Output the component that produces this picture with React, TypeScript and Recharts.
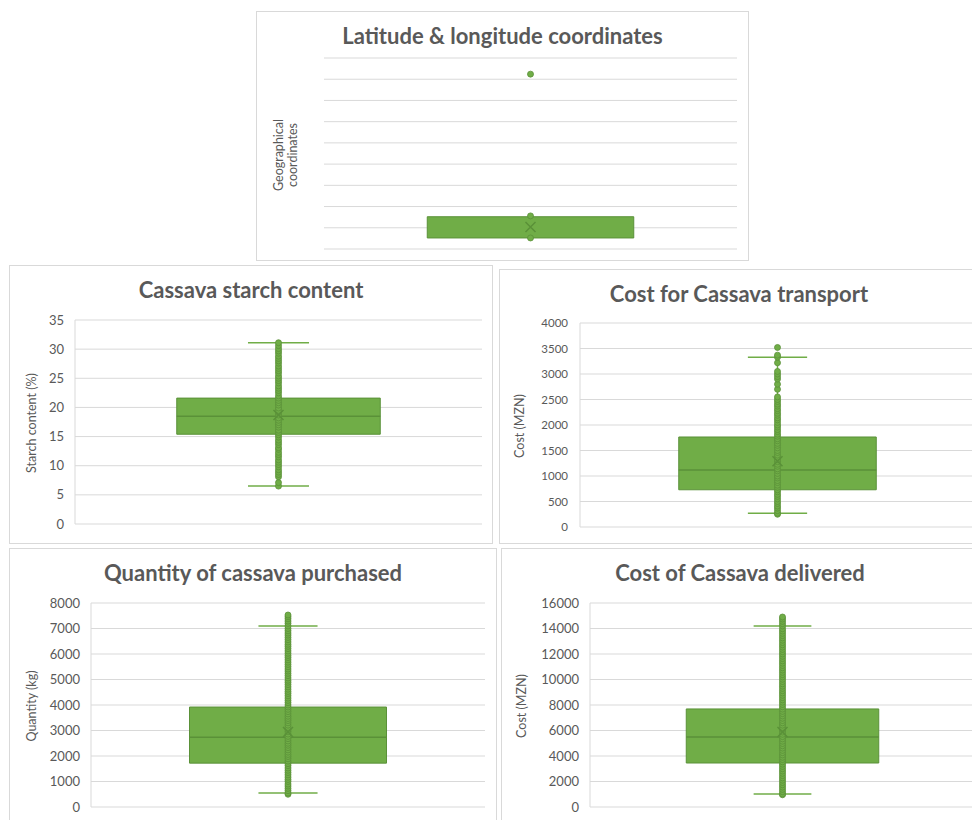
import React from "react";
import {
  ComposedChart,
  XAxis,
  YAxis,
  CartesianGrid,
  Scatter,
  ReferenceArea,
  ReferenceLine,
} from "recharts";

// ---- values ----
const geoTicks = [0, 5, 10, 15, 20, 25, 30, 35, 40, 45];
const geoStats = { q1: 2.6, median: 5.2, q3: 7.6, mean: 5.2, low: 2.6, high: 7.6 };
const geoPoints = [2.6, 7.8, 41.2];

const starchTicks = [0, 5, 10, 15, 20, 25, 30, 35];
const starchStats = { q1: 15.4, median: 18.5, q3: 21.6, mean: 18.7, low: 6.5, high: 31.1 };
const starchPoints = [
  6.5, 7.1, 8.1, 8.5, 8.9, 9.3, 9.8, 10.2, 10.6, 11.0, 11.5, 11.9, 12.3, 12.8, 13.1,
  13.6, 14.0, 14.4, 14.9, 15.3, 15.7, 16.1, 16.6, 17.0, 17.4, 17.8, 18.2, 18.7, 19.1,
  19.5, 19.9, 20.4, 20.8, 21.2, 21.6, 22.0, 22.5, 22.9, 23.3, 23.7, 24.2, 24.6, 25.0,
  25.4, 25.9, 26.3, 26.7, 27.1, 27.6, 28.0, 28.4, 28.8, 29.3, 29.7, 30.1, 30.6, 31.1,
];

const transportTicks = [0, 500, 1000, 1500, 2000, 2500, 3000, 3500, 4000];
const transportStats = { q1: 730, median: 1120, q3: 1765, mean: 1290, low: 270, high: 3330 };
const transportPoints = [
  250, 270, 320, 370, 410, 460, 500, 550, 600, 640, 690, 730, 780, 820, 870, 910, 960,
  1000, 1050, 1100, 1140, 1190, 1230, 1280, 1320, 1370, 1410, 1460, 1500, 1550, 1600,
  1640, 1690, 1730, 1780, 1820, 1870, 1910, 1960, 2000, 2050, 2100, 2140, 2190, 2230,
  2280, 2320, 2370, 2410, 2460, 2500, 2550, 2700, 2800, 2900, 2950, 3000, 3050, 3220,
  3330, 3370, 3520,
];

const quantityTicks = [0, 1000, 2000, 3000, 4000, 5000, 6000, 7000, 8000];
const quantityStats = { q1: 1720, median: 2740, q3: 3920, mean: 2940, low: 550, high: 7100 };
const quantityPoints = [
  500, 550, 640, 730, 820, 900, 1000, 1080, 1170, 1260, 1350, 1440, 1530, 1620, 1700,
  1800, 1890, 1980, 2060, 2150, 2240, 2330, 2420, 2500, 2590, 2680, 2770, 2860, 2950,
  3030, 3120, 3210, 3300, 3390, 3470, 3560, 3650, 3740, 3830, 3920, 4000, 4090, 4180,
  4270, 4360, 4450, 4530, 4620, 4710, 4800, 4890, 4970, 5060, 5150, 5240, 5330, 5410,
  5500, 5590, 5680, 5770, 5860, 5940, 6030, 6120, 6210, 6300, 6380, 6470, 6560, 6650,
  6740, 6820, 6910, 7000, 7100, 7200, 7290, 7380, 7460, 7530,
];

const deliveredTicks = [0, 2000, 4000, 6000, 8000, 10000, 12000, 14000, 16000];
const deliveredStats = { q1: 3450, median: 5490, q3: 7690, mean: 5880, low: 1020, high: 14200 };
const deliveredPoints = [
  960, 1020, 1200, 1380, 1560, 1740, 1920, 2100, 2280, 2460, 2640, 2820, 3000, 3180,
  3360, 3540, 3720, 3900, 4080, 4260, 4440, 4620, 4800, 4980, 5160, 5340, 5520, 5700,
  5880, 6060, 6240, 6420, 6600, 6780, 6960, 7140, 7320, 7500, 7680, 7860, 8040, 8220,
  8400, 8580, 8760, 8940, 9120, 9300, 9480, 9660, 9840, 10020, 10200, 10380, 10560,
  10740, 10920, 11100, 11280, 11460, 11640, 11820, 12000, 12180, 12360, 12540, 12720,
  12900, 13080, 13260, 13440, 13620, 13800, 13980, 14200, 14380, 14560, 14740, 14900,
];

// ---- styles ----
const GREEN = "#70AD47";
const GREEN_DARK = "#5A9138";
const TEXT = "#595959";
const GRID = "#D9D9D9";
const FONT = "Lato, 'Open Sans', sans-serif";

const BOX_HALF = 0.25;
const CAP_HALF = 0.075;

type Stats = { q1: number; median: number; q3: number; mean: number; low: number; high: number };

interface PanelProps {
  title: string;
  axisLabel: string[];
  frame: { left: number; top: number; width: number; height: number };
  plot: { left: number; top: number; right: number; bottom: number };
  titleY: number;
  labelX: number;
  ticks: number[];
  stats: Stats;
  points: number[];
  showTicks?: boolean;
  tickSize?: number;
  tickGap?: number;
  whiskers?: boolean;
  axisLine?: boolean;
}

const Dot = (props: any) => (
  <circle cx={props.cx} cy={props.cy} r={3} fill={GREEN} stroke={GREEN_DARK} strokeWidth={0.8} />
);

const MeanMark = (props: any) => {
  const { cx, cy } = props;
  const s = 5;
  return (
    <path
      d={`M${cx - s},${cy - s}L${cx + s},${cy + s}M${cx - s},${cy + s}L${cx + s},${cy - s}`}
      stroke={GREEN_DARK}
      strokeWidth={1.5}
      fill="none"
    />
  );
};

function BoxPanel(p: PanelProps) {
  const { frame, plot } = p;
  const axisW = p.showTicks === false ? 0 : plot.left - frame.left - 4;
  const margin = {
    top: plot.top - frame.top,
    bottom: frame.top + frame.height - plot.bottom,
    left: plot.left - frame.left - axisW,
    right: frame.left + frame.width - plot.right,
  };
  const s = p.stats;
  const pts = p.points.map((v) => ({ x: 0.5, y: v }));
  const meanPt = [{ x: 0.5, y: s.mean }];
  const top = p.ticks[p.ticks.length - 1];

  return (
    <div
      style={{
        position: "absolute",
        left: frame.left,
        top: frame.top,
        width: frame.width,
        height: frame.height,
        border: `1px solid ${GRID}`,
        boxSizing: "border-box",
        background: "#fff",
        fontFamily: FONT,
      }}
    >
      <div
        style={{
          position: "absolute",
          left: 0,
          width: "100%",
          top: p.titleY - frame.top - 14,
          textAlign: "center",
          fontSize: 22,
          fontWeight: 700,
          color: TEXT,
          lineHeight: "28px",
          whiteSpace: "nowrap",
        }}
      >
        {p.title}
      </div>
      <div
        style={{
          position: "absolute",
          left: p.labelX - frame.left,
          top: (plot.top + plot.bottom) / 2 - frame.top,
          transform: "translate(-50%, -50%) rotate(-90deg)",
          fontSize: 12.5,
          color: TEXT,
          textAlign: "center",
          lineHeight: "14px",
          whiteSpace: "nowrap",
        }}
      >
        {p.axisLabel.map((l) => (
          <div key={l}>{l}</div>
        ))}
      </div>
      <div style={{ position: "absolute", left: -1, top: -1 }}>
        <ComposedChart width={frame.width} height={frame.height} margin={margin}>
          <CartesianGrid vertical={false} stroke={GRID} />
          <XAxis type="number" dataKey="x" domain={[0, 1]} hide />
          <YAxis
            type="number"
            dataKey="y"
            domain={[0, top]}
            ticks={p.ticks}
            interval={0}
            width={axisW}
            hide={p.showTicks === false}
            tick={{ fill: TEXT, fontSize: p.tickSize ?? 13, fontFamily: FONT }}
            tickLine={false}
            tickSize={0}
            tickMargin={p.tickGap ?? 11}
            axisLine={p.axisLine === false ? false : { stroke: GRID }}
          />
          <ReferenceArea
            x1={0.5 - BOX_HALF}
            x2={0.5 + BOX_HALF}
            y1={s.q1}
            y2={s.q3}
            fill={GREEN}
            fillOpacity={1}
            stroke={GREEN_DARK}
            strokeWidth={1}
          />
          {p.whiskers !== false && (
            <>
              <ReferenceLine segment={[{ x: 0.5, y: s.q3 }, { x: 0.5, y: s.high }]} stroke={GREEN} strokeWidth={1.5} />
              <ReferenceLine segment={[{ x: 0.5, y: s.q1 }, { x: 0.5, y: s.low }]} stroke={GREEN} strokeWidth={1.5} />
              <ReferenceLine
                segment={[{ x: 0.5 - CAP_HALF, y: s.high }, { x: 0.5 + CAP_HALF, y: s.high }]}
                stroke={GREEN}
                strokeWidth={1.5}
              />
              <ReferenceLine
                segment={[{ x: 0.5 - CAP_HALF, y: s.low }, { x: 0.5 + CAP_HALF, y: s.low }]}
                stroke={GREEN}
                strokeWidth={1.5}
              />
              <ReferenceLine
                segment={[{ x: 0.5 - BOX_HALF, y: s.median }, { x: 0.5 + BOX_HALF, y: s.median }]}
                stroke={GREEN_DARK}
                strokeWidth={1.5}
              />
            </>
          )}
          <Scatter data={pts} shape={Dot} isAnimationActive={false} />
          <Scatter data={meanPt} shape={MeanMark} isAnimationActive={false} />
        </ComposedChart>
      </div>
    </div>
  );
}

export default function App() {
  return (
    <div
      style={{
        position: "absolute",
        left: 0,
        top: 0,
        width: 972,
        height: 820,
        overflow: "hidden",
        background: "#fff",
      }}
    >
      <BoxPanel
        title="Latitude & longitude coordinates"
        axisLabel={["Geographical", "coordinates"]}
        frame={{ left: 256, top: 11, width: 493, height: 250 }}
        plot={{ left: 324, top: 58, right: 737, bottom: 249 }}
        titleY={35}
        labelX={285}
        ticks={geoTicks}
        stats={geoStats}
        points={geoPoints}
        showTicks={false}
        whiskers={false}
        axisLine={false}
      />
      <BoxPanel
        title="Cassava starch content"
        axisLabel={["Starch content (%)"]}
        frame={{ left: 9, top: 265, width: 484, height: 279 }}
        plot={{ left: 75, top: 320, right: 482, bottom: 524 }}
        titleY={289}
        labelX={31}
        ticks={starchTicks}
        stats={starchStats}
        points={starchPoints}
      />
      <BoxPanel
        title="Cost for Cassava transport"
        axisLabel={["Cost (MZN)"]}
        frame={{ left: 499, top: 269, width: 480, height: 275 }}
        plot={{ left: 580, top: 323, right: 975, bottom: 527 }}
        titleY={293}
        labelX={519}
        ticks={transportTicks}
        stats={transportStats}
        points={transportPoints}
        tickSize={11.5}
        tickGap={12}
      />
      <BoxPanel
        title="Quantity of cassava purchased"
        axisLabel={["Quantity (kg)"]}
        frame={{ left: 9, top: 548, width: 488, height: 276 }}
        plot={{ left: 91, top: 603, right: 485, bottom: 807 }}
        titleY={572}
        labelX={31}
        ticks={quantityTicks}
        stats={quantityStats}
        points={quantityPoints}
      />
      <BoxPanel
        title="Cost of Cassava delivered"
        axisLabel={["Cost (MZN)"]}
        frame={{ left: 501, top: 548, width: 478, height: 276 }}
        plot={{ left: 590, top: 603, right: 975, bottom: 807 }}
        titleY={572}
        labelX={521}
        ticks={deliveredTicks}
        stats={deliveredStats}
        points={deliveredPoints}
      />
    </div>
  );
}
